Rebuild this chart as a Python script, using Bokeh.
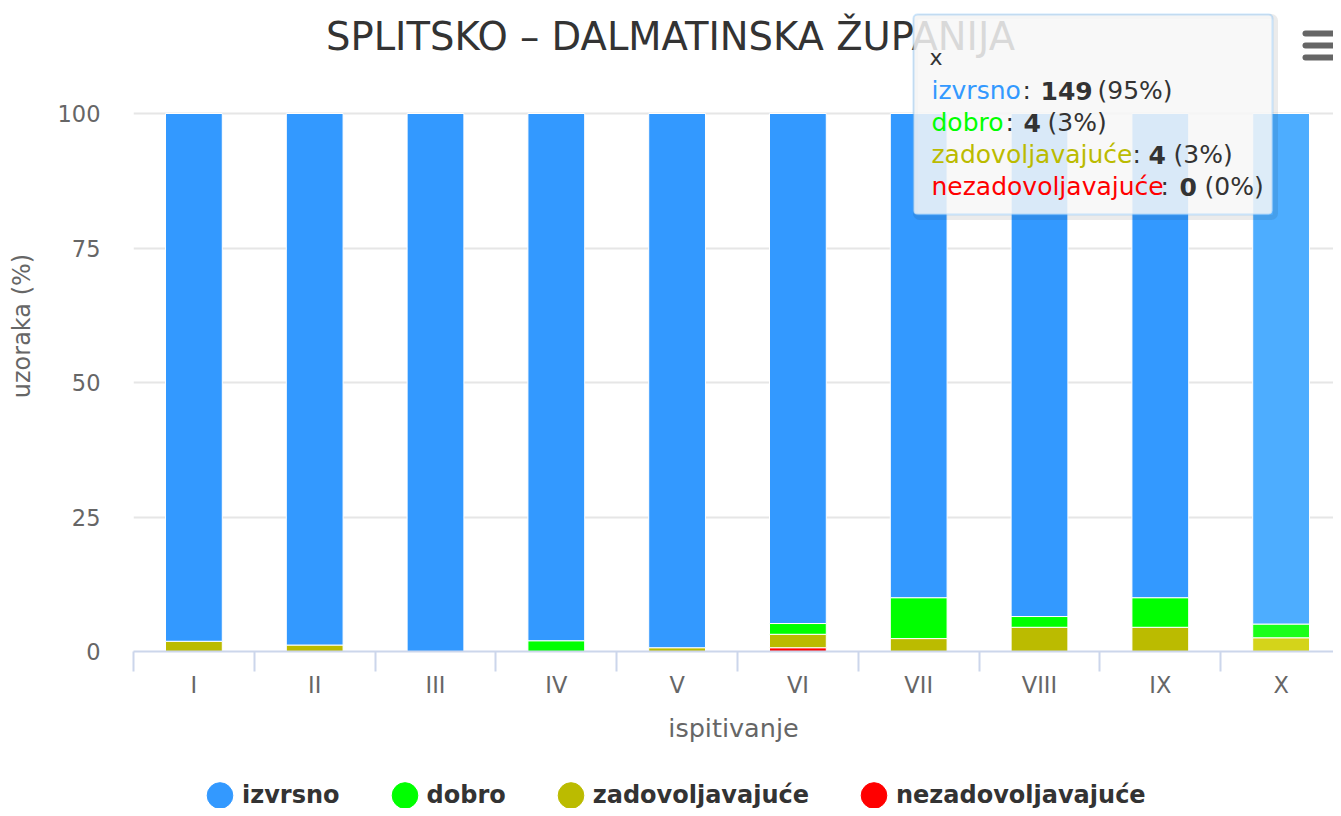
import numpy as np
from bokeh.plotting import figure
from bokeh.layouts import column
from bokeh.models import (ColumnDataSource, FixedTicker, Range1d, Legend, LegendItem,
                          Label, BoxAnnotation)
from bokeh.embed import file_html
from bokeh.resources import INLINE

# ---------------- data ----------------
categories = ["I", "II", "III", "IV", "V", "VI", "VII", "VIII", "IX", "X"]
izvrsno = [98.1, 98.8, 100.0, 98.0, 99.3, 94.8, 90.0, 93.5, 90.0, 94.9]
dobro = [0.0, 0.0, 0.0, 2.0, 0.0, 2.0, 7.6, 2.0, 5.5, 2.55]
zadovoljavajuce = [1.9, 1.2, 0.0, 0.0, 0.7, 2.5, 2.4, 4.5, 4.5, 2.55]
nezadovoljavajuce = [0.0, 0.0, 0.0, 0.0, 0.0, 0.7, 0.0, 0.0, 0.0, 0.0]

series_names = ["izvrsno", "dobro", "zadovoljavajuće", "nezadovoljavajuće"]
series_colors = ["#3399ff", "#00ff00", "#bbbb00", "#ff0000"]
hover_colors = ["#4dadff", "#1aff1a", "#d4d41a", "#ff1a1a"]
y_ticks = [0, 25, 50, 75, 100]

hover_category = "X"
tooltip_counts = ["149", "4", "4", "0"]
tooltip_pcts = ["(95%)", "(3%)", "(3%)", "(0%)"]

title_text = "SPLITSKO – DALMATINSKA ŽUPANIJA"

# ------------- layout helpers (annotation placement only) -------------
W, H_MAIN, H_LEG = 1333, 760, 48
FRAME_LEFT, FRAME_BOTTOM = 133, 651
X_STEP, Y_STEP = 120.8, 5.38          # px per category, px per percent


def fx(px):
    return (px - FRAME_LEFT) / X_STEP


def fy(py):
    return (FRAME_BOTTOM - py) / Y_STEP


FONT = "DejaVu Sans"

p = figure(width=W, height=H_MAIN, output_backend="svg", toolbar_location=None,
           x_range=Range1d(0, fx(W)), y_range=Range1d(0, fy(0)),
           min_border_left=FRAME_LEFT, min_border_right=0, min_border_top=0,
           min_border_bottom=H_MAIN - FRAME_BOTTOM, title_location=None)
p.outline_line_color = None
p.background_fill_color = "white"
p.border_fill_color = "white"

# ---------------- stacked bars ----------------
x_pos = np.arange(len(categories)) + 0.5
stack = [nezadovoljavajuce, zadovoljavajuce, dobro, izvrsno]
stack_cols = [series_colors[3], series_colors[2], series_colors[1], series_colors[0]]
stack_hcols = [hover_colors[3], hover_colors[2], hover_colors[1], hover_colors[0]]
bottom = np.zeros(len(categories))
for vals, col, hcol in zip(stack, stack_cols, stack_hcols):
    v = np.array(vals, dtype=float)
    top = bottom + v
    mask = v > 0
    colors = np.array([hcol if c == hover_category else col for c in categories])
    src = ColumnDataSource(dict(x=x_pos[mask], bottom=bottom[mask], top=top[mask],
                                color=colors[mask]))
    p.vbar(x="x", bottom="bottom", top="top", width=0.47, source=src,
           fill_color="color", line_color="white", line_width=1)
    bottom = top

# ---------------- axes / grid ----------------
xa = p.xaxis[0]
xa.ticker = FixedTicker(ticks=list(x_pos), minor_ticks=list(range(len(categories) + 1)))
xa.major_label_overrides = {float(x): c for x, c in zip(x_pos, categories)}
xa.major_tick_out = 0
xa.major_tick_in = 0
xa.minor_tick_out = 20
xa.minor_tick_in = 0
xa.minor_tick_line_color = "#ccd6eb"
xa.minor_tick_line_width = 2
xa.axis_line_color = "#ccd6eb"
xa.axis_line_width = 2
xa.major_label_text_font = FONT
xa.major_label_text_font_size = "22.5px"
xa.major_label_text_color = "#666666"
xa.major_label_standoff = 0
xa.axis_label = "ispitivanje"
xa.axis_label_text_font = FONT
xa.axis_label_text_font_size = "25.5px"
xa.axis_label_text_font_style = "normal"
xa.axis_label_text_color = "#666666"
xa.axis_label_standoff = 12

ya = p.yaxis[0]
ya.ticker = FixedTicker(ticks=y_ticks)
ya.axis_line_color = None
ya.major_tick_line_color = None
ya.minor_tick_line_color = None
ya.major_tick_out = 0
ya.major_label_standoff = 33
ya.major_label_text_font = FONT
ya.major_label_text_font_size = "22.5px"
ya.major_label_text_color = "#666666"
ya.axis_label = "uzoraka (%)"
ya.axis_label_text_font = FONT
ya.axis_label_text_font_size = "24px"
ya.axis_label_text_font_style = "normal"
ya.axis_label_text_color = "#666666"
ya.axis_label_standoff = 19

p.xgrid.visible = False
p.ygrid.ticker = FixedTicker(ticks=y_ticks)
p.ygrid.grid_line_color = "#e6e6e6"
p.ygrid.grid_line_width = 2

# ---------------- title ----------------
p.add_layout(Label(x=fx(670), y=fy(36), text=title_text, text_align="center",
                   text_baseline="middle", text_font=FONT, text_font_size="38.5px",
                   text_color="#333333"))

# ---------------- menu icon ----------------
for yy in (33, 45, 57):
    p.segment(x0=[fx(1305)], y0=[fy(yy)], x1=[fx(1336)], y1=[fy(yy)],
              line_color="#666666", line_width=6, line_cap="round")

# ---------------- tooltip ----------------
p.add_layout(BoxAnnotation(left=fx(915), right=fx(1275), top=fy(16), bottom=fy(217),
                           fill_alpha=0, line_color="black", line_alpha=0.08,
                           line_width=5, border_radius=4))
p.add_layout(BoxAnnotation(left=fx(913), right=fx(1272), top=fy(14), bottom=fy(214),
                           fill_color="#f7f7f7", fill_alpha=0.85, line_color="#5aabf5",
                           line_width=2, border_radius=4))
p.add_layout(Label(x=fx(929), y=fy(57), text="x", text_font=FONT, text_font_size="22px",
                   text_color="#333333", text_baseline="alphabetic"))

baselines = [90, 122, 154, 186]
colon_x = [1022, 1005, 1132, 1160]
num_x = [1040, 1023, 1148, 1179]
pct_x = [1097, 1047, 1173, 1204]
for i, name in enumerate(series_names):
    yb = fy(baselines[i])
    common = dict(text_font=FONT, text_font_size="25px", text_baseline="alphabetic")
    p.add_layout(Label(x=fx(931), y=yb, text=name, text_color=series_colors[i], **common))
    p.add_layout(Label(x=fx(colon_x[i]), y=yb, text=":", text_color="#333333", **common))
    p.add_layout(Label(x=fx(num_x[i]), y=yb, text=tooltip_counts[i], text_color="#333333",
                       text_font_style="bold", **common))
    p.add_layout(Label(x=fx(pct_x[i]), y=yb, text=tooltip_pcts[i], text_color="#333333",
                       **common))

# ---------------- legend strip (frame aligned with the chart's frame) ----------------
lf = figure(width=W, height=H_LEG, output_backend="svg", toolbar_location=None,
            x_range=Range1d(0, 1), y_range=Range1d(0, 1), min_border=0,
            x_axis_location=None, y_axis_location=None, title_location=None)
lf.outline_line_color = None
lf.xgrid.visible = False
lf.ygrid.visible = False
lf.border_fill_color = "white"
items = []
for name, col in zip(series_names, series_colors):
    r = lf.ellipse(x=[np.nan], y=[np.nan], width=10, height=10, width_units="screen",
                   height_units="screen", fill_color=col, line_color=col)
    items.append(LegendItem(label=name, renderers=[r]))
legend = Legend(items=items, orientation="horizontal", location=(70, -3),
                glyph_width=33, glyph_height=32, label_standoff=6, spacing=48,
                padding=0, margin=0, border_line_color=None, background_fill_alpha=0,
                label_text_font=FONT, label_text_font_style="bold",
                label_text_font_size="24px", label_text_color="#333333")
lf.add_layout(legend)

layout = column(p, lf, spacing=0)
open("out.html", "w").write(file_html(layout, INLINE, title="Splitsko-dalmatinska županija"))
